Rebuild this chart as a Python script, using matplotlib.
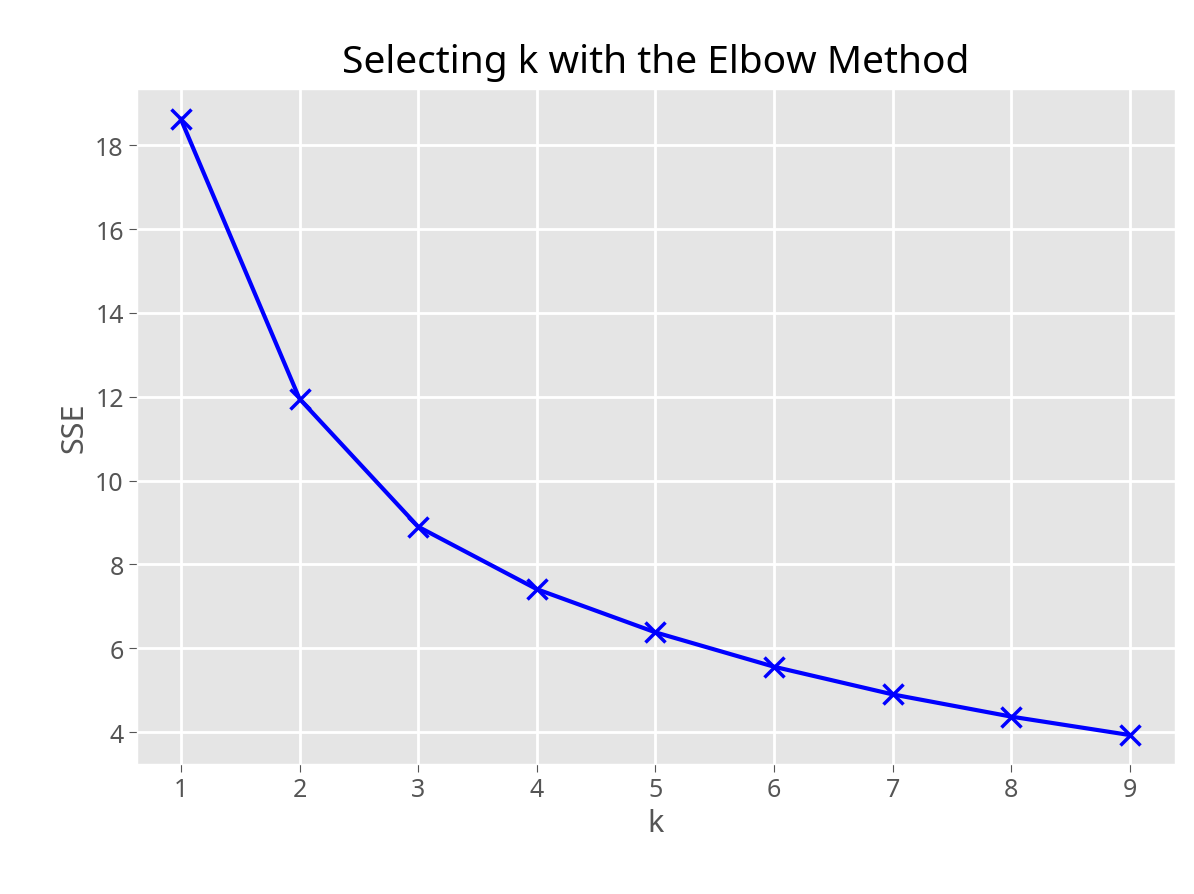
import matplotlib
matplotlib.use("Agg")
import matplotlib.pyplot as plt

plt.style.use("ggplot")
plt.rcParams['font.family'] = ['Noto Sans', 'DejaVu Sans']

k = [1, 2, 3, 4, 5, 6, 7, 8, 9]
sse = [18.62, 11.95, 8.9, 7.41, 6.38, 5.56, 4.9, 4.37, 3.93]

fig = plt.figure(figsize=(11.94, 8.95), dpi=100)
ax = fig.add_axes([137/1194, 1-765/895, (1175-137)/1194, (765-90)/895])
ax.plot(k, sse, 'bx-', lw=3, ms=14, mew=2.5)
ax.set_xlabel('k', fontsize=22, color='#555555')
ax.set_ylabel('SSE', fontsize=22, color='#555555')
ax.set_title('Selecting k with the Elbow Method', fontsize=28, color='black', pad=12)
ax.tick_params(labelsize=18, colors='#555555', length=6)
ax.set_yticks([4, 6, 8, 10, 12, 14, 16, 18])
ax.set_ylim(3.24, 19.34)
ax.set_xlim(0.63, 9.38)
ax.grid(color='white', lw=2)
fig.savefig('out.png', dpi=100)
